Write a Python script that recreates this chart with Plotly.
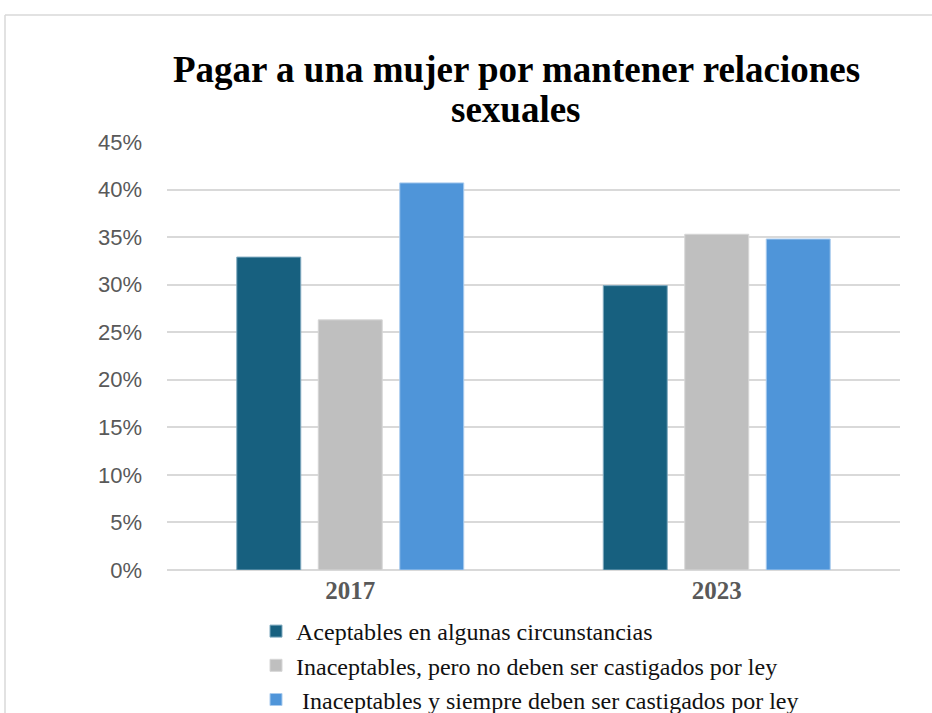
import plotly.graph_objects as go

years = ["2017", "2023"]
series_names = [
    "Aceptables en algunas circunstancias",
    "Inaceptables, pero no deben ser castigados por ley",
    " Inaceptables y siempre deben ser castigados por ley",
]
aceptables = [32.9, 29.9]
inacept_no_castigo = [26.3, 35.3]
inacept_castigo = [40.7, 34.8]
colors = ["#17607F", "#BFBFBF", "#4F95D9"]
line_colors = ["#7FA9BF", "#D6D6D6", "#A9CBEE"]
y_ticks = [0, 5, 10, 15, 20, 25, 30, 35, 40, 45]
y_tick_labels = [f"{v}%" for v in y_ticks]
title_lines = ["Pagar a una mujer por mantener relaciones", "sexuales"]

fig = go.Figure()
for name, vals, c, lc in zip(series_names, [aceptables, inacept_no_castigo, inacept_castigo], colors, line_colors):
    fig.add_trace(go.Bar(x=years, y=vals, name=name, marker=dict(color=c, line=dict(color=lc, width=1))))

W, H = 932, 713
L, R, T, B = 167, 32, 142, 143
pw, ph = W - L - R, H - T - B

def px_x(x):
    return (x - L) / pw

def px_y(y):
    return (H - B - y) / ph

title_font = dict(family="Liberation Serif", size=37, color="black", weight="bold")

fig.update_layout(
    width=W, height=H,
    margin=dict(l=L, r=R, t=T, b=B, autoexpand=False),
    paper_bgcolor="white", plot_bgcolor="white",
    barmode="group", bargap=0.333, bargroupgap=0.215,
    showlegend=True,
    legend=dict(
        xref="container", yref="container",
        x=256 / W, y=1 - 609 / H, xanchor="left", yanchor="top",
        font=dict(family="Liberation Serif", size=24, color="#111111"),
        bgcolor="rgba(0,0,0,0)", tracegroupgap=0,
    ),
    xaxis=dict(
        showgrid=False, showline=False, zeroline=False,
        tickfont=dict(family="Liberation Serif", size=25, color="#595959", weight="bold"),
        ticklabelstandoff=3,
    ),
    yaxis=dict(
        range=[0, 45], tickvals=y_ticks, ticktext=y_tick_labels,
        showgrid=True, gridcolor="#D9D9D9", gridwidth=1.5,
        zeroline=True, zerolinecolor="#D9D9D9", zerolinewidth=2,
        showline=False, ticks="",
        tickfont=dict(family="Liberation Sans", size=22, color="#595959"),
        ticklabelstandoff=24,
    ),
    annotations=[
        dict(text=title_lines[0], xref="paper", yref="paper",
             x=px_x(516), y=px_y(69), xanchor="center", yanchor="middle",
             showarrow=False, font=title_font),
        dict(text=title_lines[1], xref="paper", yref="paper",
             x=px_x(516), y=px_y(109), xanchor="center", yanchor="middle",
             showarrow=False, font=title_font),
    ],
    shapes=[
        dict(type="line", xref="paper", yref="paper",
             x0=px_x(5), x1=px_x(940), y0=px_y(15), y1=px_y(15),
             line=dict(color="#D9D9D9", width=1.5)),
        dict(type="line", xref="paper", yref="paper",
             x0=px_x(5), x1=px_x(5), y0=px_y(15), y1=px_y(720),
             line=dict(color="#D9D9D9", width=1.5)),
    ],
)

fig.write_html("out.html", config={"displayModeBar": False},
               post_script="document.body.style.margin='0';")
